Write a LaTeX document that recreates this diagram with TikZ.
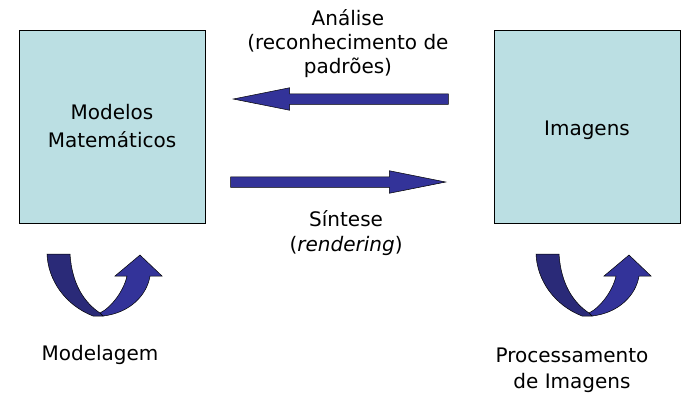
\documentclass[tikz,border=0pt]{standalone}
\usepackage{fontspec}
\setmainfont{DejaVu Sans}
\usetikzlibrary{positioning,shapes.arrows}
\definecolor{boxcyan}{RGB}{187,223,227}
\definecolor{arrowblue}{RGB}{51,51,153}
\definecolor{arrowdark}{RGB}{42,42,120}

\tikzset{
  uturn/.pic={
    \filldraw[fill=arrowblue,draw=black,line width=0.5pt]
      (0,2) .. controls (12,8) and (24,25) .. (27,39) -- (15,39) -- (40,60)
      -- (62,39) -- (50,39) .. controls (47,20) and (30,2) .. (3,-1) -- cycle;
    \filldraw[fill=arrowdark,draw=black,line width=0.5pt]
      (-53,61) -- (-30,61) .. controls (-28,30) and (-15,12) .. (0,2) -- (3,-1)
      -- (-7,-1) .. controls (-35,10) and (-52,35) .. (-53,61) -- cycle;
  }
}

\begin{document}
\begin{tikzpicture}[x=1pt,y=1pt,
  mbox/.style={draw=black,line width=0.6pt,fill=boxcyan,minimum width=186pt,
    minimum height=193pt,align=center,font=\fontsize{20}{28}\selectfont},
  blockarrow/.style={single arrow,draw=black,line width=0.5pt,fill=arrowblue,
    minimum height=215pt,inner sep=5pt,single arrow head extend=6pt,
    single arrow tip angle=22.6},
  lbl/.style={align=center,font=\fontsize{20}{25}\selectfont}]
  \useasboundingbox (0,0) rectangle (700,-400);
  \node[mbox] (modelos) at (112,-126.5) {Modelos\\Matemáticos};
  \node[mbox,text height=22pt,text depth=5pt] (imagens) at (587,-126.5) {Imagens};
  \node[blockarrow,shape border rotate=180,anchor=tip] (analise) at (232,-99) {};
  \node[blockarrow,anchor=tip] (sintese) at (447,-182) {};
  \node[lbl,above=12pt of analise,xshift=-6pt,font=\fontsize{20}{24}\selectfont]
    (analisetxt) {Análise\\(reconhecimento de\\padrões)};
  \node[lbl,below=19pt of sintese,xshift=21pt] (sintesetxt)
    {Síntese\\(\textit{rendering})};
  \foreach \x in {100,589}
    \pic at (\x,-315) {uturn};
  \node[lbl,anchor=base] (modelagem) at (100,-360) {Modelagem};
  \node[lbl,anchor=base,font=\fontsize{20}{26}\selectfont] (processamento)
    at (572,-388) {Processamento\\de Imagens};
\end{tikzpicture}
\end{document}
